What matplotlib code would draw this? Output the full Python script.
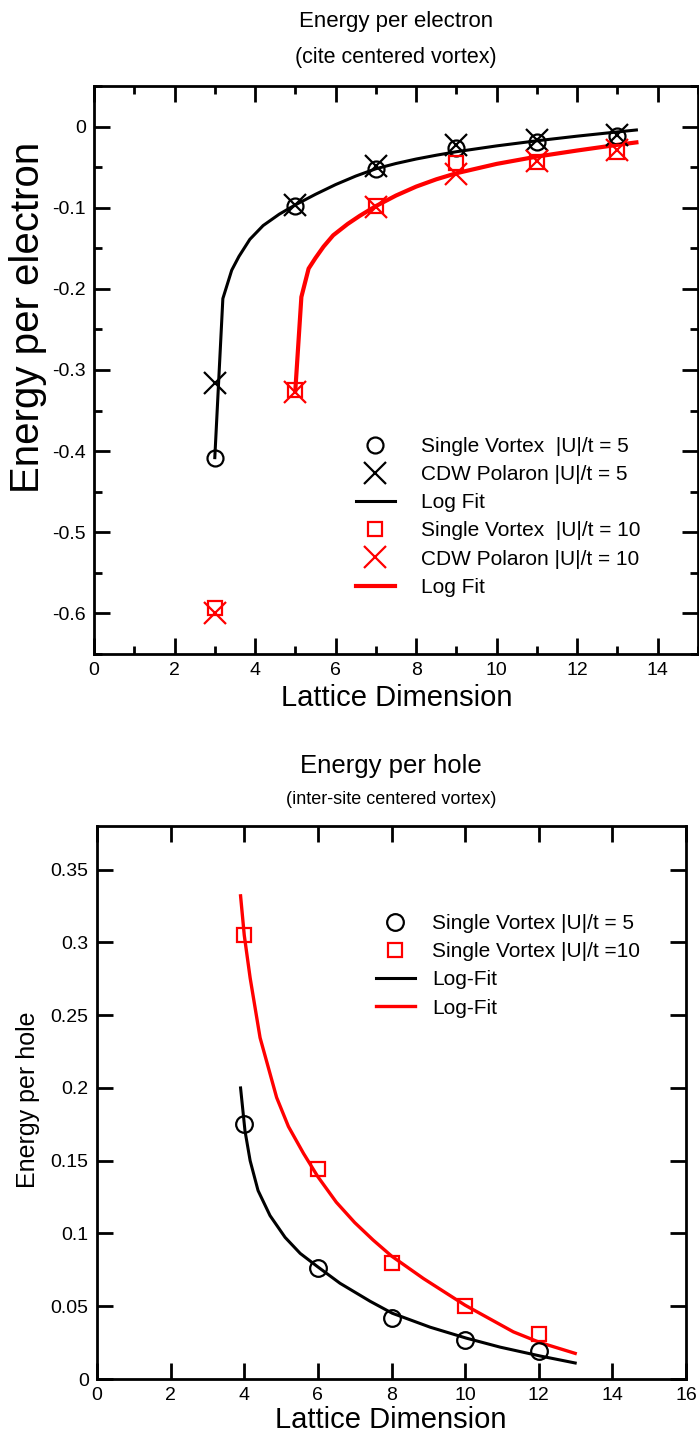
import matplotlib
matplotlib.use("Agg")
import matplotlib.pyplot as plt
from matplotlib.ticker import MultipleLocator, FixedLocator
from matplotlib.lines import Line2D

plt.rcParams['font.family'] = ['Liberation Sans', 'DejaVu Sans']

# ---------------- data: top panel (cite centered vortex) ----------------
x_top = [3, 5, 7, 9, 11, 13]
sv5_top = [-0.408, -0.0975, -0.052, -0.027, -0.019, -0.012]
cdw5_top = [-0.316, -0.097, -0.049, -0.023, -0.017, -0.011]
sv10_top = [-0.593, -0.325, -0.098, -0.045, -0.044, -0.031]
cdw10_top = [-0.600, -0.327, -0.099, -0.059, -0.042, -0.029]

fit5_top_x = [3.0, 3.2, 3.42, 3.6, 3.87, 4.2, 4.6, 5.0, 5.5, 6.0, 6.5, 7.0, 7.5, 8.0,
              8.5, 9.0, 10.0, 11.0, 12.0, 13.0, 13.47]
fit5_top_y = [-0.408, -0.212, -0.177, -0.160, -0.139, -0.122, -0.108, -0.0965, -0.0835,
              -0.0715, -0.061, -0.052, -0.0455, -0.040, -0.0353, -0.031, -0.0238, -0.0175,
              -0.0118, -0.0066, -0.0042]
fit10_top_x = [5.0, 5.15, 5.33, 5.5, 5.7, 5.94, 6.3, 6.6, 7.0, 7.5, 8.0, 8.5, 9.0, 10.0,
               11.0, 12.0, 13.0, 13.47]
fit10_top_y = [-0.325, -0.210, -0.175, -0.162, -0.148, -0.134, -0.120, -0.110, -0.098,
               -0.085, -0.074, -0.065, -0.0575, -0.046, -0.037, -0.0295, -0.0225, -0.0195]

top_labels = ["Single Vortex  |U|/t = 5", "CDW Polaron |U|/t = 5", "Log Fit",
              "Single Vortex  |U|/t = 10", "CDW Polaron |U|/t = 10", "Log Fit"]

# ---------------- data: bottom panel (inter-site centered vortex) ----------------
x_bot = [4, 6, 8, 10, 12]
sv5_bot = [0.175, 0.076, 0.042, 0.027, 0.019]
sv10_bot = [0.305, 0.144, 0.080, 0.050, 0.031]

fit5_bot_x = [3.9, 4.02, 4.16, 4.375, 4.70, 5.11, 5.52, 5.98, 6.60, 7.42, 8.02, 9.05,
              10.03, 10.95, 12.04, 12.99]
fit5_bot_y = [0.200, 0.1705, 0.150, 0.1295, 0.1123, 0.0973, 0.0863, 0.0774, 0.0658,
              0.0534, 0.0452, 0.0356, 0.0281, 0.0219, 0.0158, 0.011]
fit10_bot_x = [3.9, 4.0, 4.16, 4.43, 4.88, 5.2, 5.61, 6.0, 6.5, 7.0, 7.5, 8.0, 8.87,
               10.0, 11.31, 12.04, 12.99]
fit10_bot_y = [0.332, 0.305, 0.2756, 0.2345, 0.1934, 0.1735, 0.155, 0.139, 0.1215,
               0.1075, 0.0955, 0.0845, 0.069, 0.0507, 0.0324, 0.0250, 0.0176]

bot_labels = ["Single Vortex |U|/t = 5", "Single Vortex |U|/t =10", "Log-Fit", "Log-Fit"]

RED = "#ff0000"
W, H = 699, 1436
fig = plt.figure(figsize=(W / 100, H / 100), dpi=100)


def px_axes(l, t, r, b):
    return fig.add_axes([l / W, 1 - b / H, (r - l) / W, (b - t) / H])


def style(ax):
    for s in ax.spines.values():
        s.set_linewidth(2.0)
    ax.tick_params(which='major', direction='in', length=11.5, width=2.0,
                   top=True, right=True, labelsize=14, pad=6)
    ax.tick_params(which='minor', direction='in', length=6, width=2.0,
                   top=True, right=True)


# ---------------- top panel ----------------
ax1 = px_axes(94, 86, 698, 654)
ax1.plot(fit5_top_x, fit5_top_y, color='black', lw=2.2, zorder=2)
ax1.plot(fit10_top_x, fit10_top_y, color=RED, lw=3.0, zorder=2)
ax1.plot(x_top, sv5_top, ls='none', marker='o', ms=11.5, mfc='none', mec='black', mew=1.6, zorder=3)
ax1.plot(x_top, cdw5_top, ls='none', marker='x', ms=16, mec='black', mew=1.6, zorder=3)
ax1.plot(x_top, sv10_top, ls='none', marker='s', ms=10.5, mfc='none', mec=RED, mew=1.6, zorder=3)
ax1.plot(x_top, cdw10_top, ls='none', marker='x', ms=16, mec=RED, mew=1.6, zorder=3)
ax1.set_xlim(0, 15)
ax1.set_ylim(-0.65, 0.05)
ax1.xaxis.set_major_locator(FixedLocator([0, 2, 4, 6, 8, 10, 12, 14]))
ax1.xaxis.set_minor_locator(MultipleLocator(1))
ax1.yaxis.set_major_locator(FixedLocator([-0.6, -0.5, -0.4, -0.3, -0.2, -0.1, 0]))
ax1.yaxis.set_minor_locator(MultipleLocator(0.05))
ax1.set_yticklabels(["-0.6", "-0.5", "-0.4", "-0.3", "-0.2", "-0.1", "0"])
style(ax1)

h_top = [
    Line2D([], [], ls='none', marker='o', ms=11.5, mfc='none', mec='black', mew=1.6),
    Line2D([], [], ls='none', marker='x', ms=16, mec='black', mew=1.6),
    Line2D([], [], color='black', lw=2.2),
    Line2D([], [], ls='none', marker='s', ms=10.5, mfc='none', mec=RED, mew=1.6),
    Line2D([], [], ls='none', marker='x', ms=16, mec=RED, mew=1.6),
    Line2D([], [], color=RED, lw=3.0),
]
ax1.legend(h_top, top_labels, loc='upper left', frameon=False, fontsize=15,
           bbox_to_anchor=((356 - 94) / 604, (654 - 437) / 568),
           borderpad=0, borderaxespad=0, handlelength=1.87, handletextpad=1.25,
           labelspacing=0.44)

fig.text(396 / W, 1 - 21 / H, "Energy per electron", ha='center', va='center', fontsize=16)
fig.text(396 / W, 1 - 58 / H, "(cite centered vortex)", ha='center', va='center', fontsize=15.5)
fig.text(397 / W, 1 - 698 / H, "Lattice Dimension", ha='center', va='center', fontsize=21)
fig.text(28 / W, 1 - 317 / H, "Energy per electron", ha='center', va='center',
         rotation=90, fontsize=29)

# ---------------- bottom panel ----------------
ax2 = px_axes(97, 826, 686, 1379)
ax2.plot(fit5_bot_x, fit5_bot_y, color='black', lw=2.2, zorder=2)
ax2.plot(fit10_bot_x, fit10_bot_y, color=RED, lw=2.4, zorder=2)
ax2.plot(x_bot, sv5_bot, ls='none', marker='o', ms=12, mfc='none', mec='black', mew=1.6, zorder=3)
ax2.plot(x_bot, sv10_bot, ls='none', marker='s', ms=10.5, mfc='none', mec=RED, mew=1.6, zorder=3)
ax2.set_xlim(0, 16)
ax2.set_ylim(0, 0.38)
ax2.xaxis.set_major_locator(FixedLocator([0, 2, 4, 6, 8, 10, 12, 14, 16]))
ax2.yaxis.set_major_locator(FixedLocator([0, 0.05, 0.1, 0.15, 0.2, 0.25, 0.3, 0.35]))
ax2.set_yticklabels(["0", "0.05", "0.1", "0.15", "0.2", "0.25", "0.3", "0.35"])
style(ax2)

h_bot = [
    Line2D([], [], ls='none', marker='o', ms=12, mfc='none', mec='black', mew=1.6),
    Line2D([], [], ls='none', marker='s', ms=10.5, mfc='none', mec=RED, mew=1.6),
    Line2D([], [], color='black', lw=2.2),
    Line2D([], [], color=RED, lw=2.4),
]
ax2.legend(h_bot, bot_labels, loc='upper left', frameon=False, fontsize=15,
           bbox_to_anchor=((376 - 97) / 589, (1379 - 914) / 553),
           borderpad=0, borderaxespad=0, handlelength=1.87, handletextpad=0.82,
           labelspacing=0.44)

fig.text(391 / W, 1 - 766 / H, "Energy per hole", ha='center', va='center', fontsize=18.5)
fig.text(391 / W, 1 - 800 / H, "(inter-site centered vortex)", ha='center', va='center', fontsize=13)
fig.text(391 / W, 1 - 1420 / H, "Lattice Dimension", ha='center', va='center', fontsize=21)
fig.text(28 / W, 1 - 1100 / H, "Energy per hole", ha='center', va='center',
         rotation=90, fontsize=18)

fig.savefig("out.png", dpi=100)
